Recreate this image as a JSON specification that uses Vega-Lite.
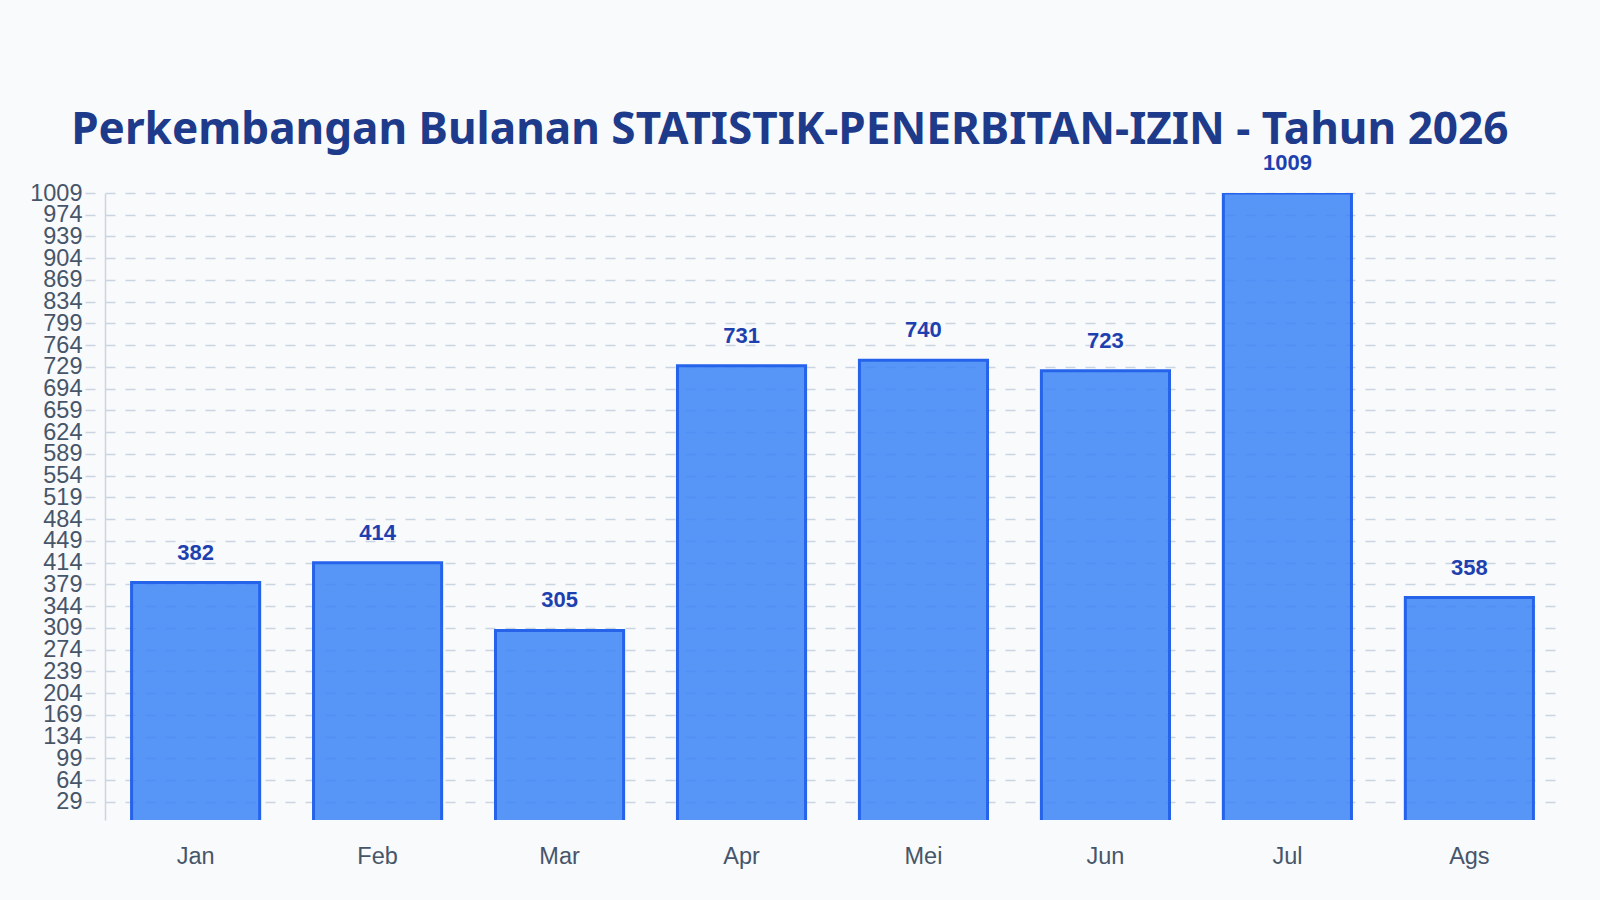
{
  "$schema": "https://vega.github.io/schema/vega-lite/v6.json",
  "width": 1455,
  "height": 627,
  "autosize": {"type": "none"},
  "padding": {"left": 105, "top": 193, "right": 40, "bottom": 80},
  "background": "#f8fafc",
  "view": {"stroke": null},
  "title": {
    "text": "Perkembangan Bulanan STATISTIK-PENERBITAN-IZIN - Tahun 2026",
    "font": "Noto Sans",
    "fontSize": 44.1,
    "fontWeight": "bold",
    "color": "#1e3a8a",
    "anchor": "middle",
    "frame": "bounds",
    "baseline": "alphabetic",
    "dx": -5,
    "offset": -36
  },
  "data": {
    "values": [
      {"bulan": "Jan", "jumlah": 382},
      {"bulan": "Feb", "jumlah": 414},
      {"bulan": "Mar", "jumlah": 305},
      {"bulan": "Apr", "jumlah": 731},
      {"bulan": "Mei", "jumlah": 740},
      {"bulan": "Jun", "jumlah": 723},
      {"bulan": "Jul", "jumlah": 1009},
      {"bulan": "Ags", "jumlah": 358}
    ]
  },
  "encoding": {
    "x": {
      "field": "bulan",
      "type": "nominal",
      "sort": null,
      "scale": {"paddingInner": 0.296, "paddingOuter": 0.146},
      "axis": {
        "title": null,
        "labelAngle": 0,
        "domain": false,
        "ticks": false,
        "grid": false,
        "labelFont": "Liberation Sans",
        "labelFontSize": 23.5,
        "labelColor": "#475569",
        "labelPadding": 24
      }
    },
    "y": {
      "field": "jumlah",
      "type": "quantitative",
      "scale": {"domain": [0, 1009], "nice": false, "zero": true},
      "axis": {
        "title": null,
        "format": "d",
        "values": [29, 64, 99, 134, 169, 204, 239, 274, 309, 344, 379, 414, 449, 484, 519, 554, 589, 624, 659, 694, 729, 764, 799, 834, 869, 904, 939, 974, 1009],
        "labelFont": "Liberation Sans",
        "labelFontSize": 23.5,
        "labelColor": "#475569",
        "labelPadding": 3,
        "labelBound": false,
        "labelOverlap": false,
        "domainColor": "#cbd5e1",
        "domainWidth": 1.5,
        "tickColor": "#cbd5e1",
        "tickWidth": 1.5,
        "tickSize": 20,
        "tickDash": [0, 10, 10, 0],
        "gridColor": "#cbd5e1",
        "gridWidth": 1.5,
        "gridDash": [10, 10]
      }
    }
  },
  "layer": [
    {
      "mark": {
        "type": "bar",
        "clip": true,
        "fill": "#3b82f6",
        "fillOpacity": 0.85,
        "stroke": "#2563eb",
        "strokeWidth": 3
      },
      "encoding": {
        "y2": {"datum": -10}
      }
    },
    {
      "mark": {
        "type": "text",
        "font": "Liberation Sans",
        "fontSize": 22,
        "fontWeight": "bold",
        "color": "#1e40af",
        "baseline": "alphabetic",
        "dy": -23
      },
      "encoding": {
        "text": {"field": "jumlah", "type": "quantitative", "format": "d"}
      }
    }
  ]
}
